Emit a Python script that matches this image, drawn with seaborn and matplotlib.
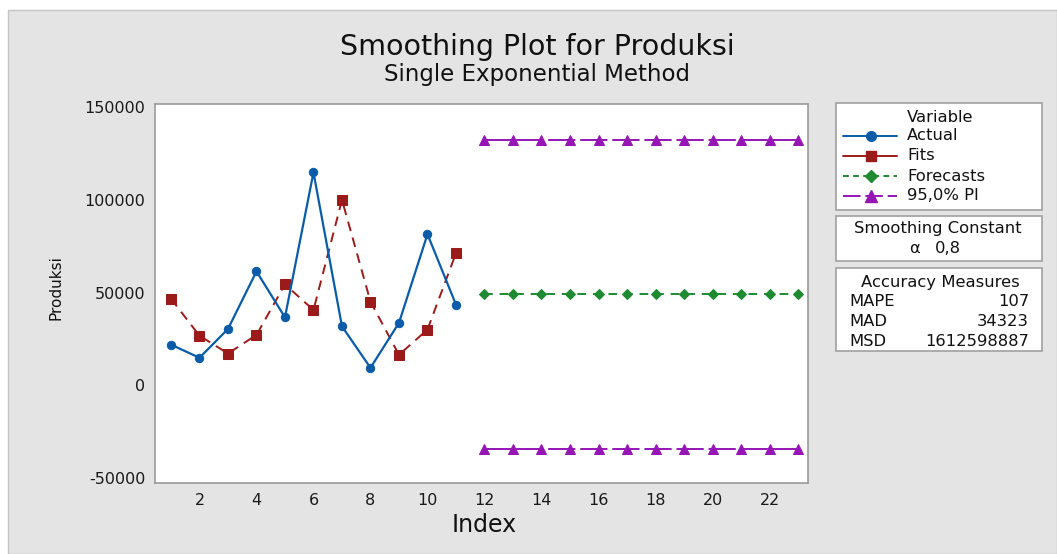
import matplotlib
matplotlib.use("Agg")
import matplotlib.pyplot as plt
from matplotlib.patches import Rectangle
from matplotlib.lines import Line2D
import numpy as np
import pandas as pd
import seaborn as sns

# ---- data ----
index_obs = list(range(1, 12))
actual = [22000, 14900, 30400, 61400, 36700, 114700, 31800, 9500, 33700, 81400, 43500]
fits = [46700, 26800, 17200, 27200, 54400, 40600, 99900, 45100, 16500, 30100, 71200]
index_fc = list(range(12, 24))
forecast_value = 49000
upper_pi = 132300
lower_pi = -34300
forecasts = [forecast_value] * len(index_fc)
upper = [upper_pi] * len(index_fc)
lower = [lower_pi] * len(index_fc)
x_ticks = list(range(2, 23, 2))
y_ticks = [-50000, 0, 50000, 100000, 150000]
alpha_value = "0,8"
acc_labels = ["MAPE", "MAD", "MSD"]
acc_values = ["107", "34323", "1612598887"]

sns.set_style("white")
plt.rcParams['font.family'] = ['DejaVu Sans']

C_ACT = "#0a5ca8"
C_FIT = "#9b1b1b"
C_FC = "#1e8a32"
C_PI = "#9516b5"
GRAY_BG = "#e4e4e4"
SPINE = "#9a9a9a"
TXT = "#111111"

W, H = 1057, 554
fig = plt.figure(figsize=(W / 100, H / 100), dpi=100, facecolor="white")

def fx(px):
    return px / W

def fy(py):
    return 1 - py / H

# outer gray panel
fig.patches.append(Rectangle((fx(8), 0), 1 - fx(8), fy(10), transform=fig.transFigure,
                             facecolor=GRAY_BG, edgecolor="#c4c4c4", linewidth=1.0, zorder=-5))

ax = fig.add_axes([fx(155), fy(483), fx(808) - fx(155), fy(104) - fy(483)])
ax.set_zorder(2)
ax.set_facecolor("white")

df_act = pd.DataFrame({"Index": index_obs, "Produksi": actual})
df_fit = pd.DataFrame({"Index": index_obs, "Produksi": fits})
df_fc = pd.DataFrame({"Index": index_fc, "Produksi": forecasts})
df_up = pd.DataFrame({"Index": index_fc, "Produksi": upper})
df_lo = pd.DataFrame({"Index": index_fc, "Produksi": lower})

sns.lineplot(data=df_act, x="Index", y="Produksi", ax=ax, color=C_ACT, lw=1.6,
             marker="o", markersize=6, markeredgecolor=C_ACT, zorder=3)
sns.lineplot(data=df_fit, x="Index", y="Produksi", ax=ax, color=C_FIT, lw=1.4,
             marker="s", markersize=6.5, markeredgecolor=C_FIT, zorder=2)
ax.lines[-1].set_linestyle((0, (5, 3.5)))
sns.lineplot(data=df_fc, x="Index", y="Produksi", ax=ax, color=C_FC, lw=1.4,
             marker="D", markersize=5.5, markeredgecolor=C_FC, zorder=2)
ax.lines[-1].set_linestyle((0, (4.5, 3.5)))
for d in (df_up, df_lo):
    sns.lineplot(data=d, x="Index", y="Produksi", ax=ax, color=C_PI, lw=1.4,
                 marker="^", markersize=7.5, markeredgecolor=C_PI, zorder=2)
    ax.lines[-1].set_linestyle((0, (14, 2.5)))

ax.set_xlim(0.44, 23.35)
ax.set_ylim(-52500, 151500)
ax.set_xticks(x_ticks)
ax.set_yticks(y_ticks)
ax.set_yticklabels([str(v) for v in y_ticks])
for s in ax.spines.values():
    s.set_color(SPINE)
    s.set_linewidth(1.2)
ax.tick_params(axis="both", direction="out", length=5, width=1.2, color=SPINE,
               labelsize=11.5, labelcolor="#1a1a1a", pad=2)
ax.set_xlabel("")
ax.set_ylabel("")

fig.text(fx(484), fy(525), "Index", ha="center", va="center", fontsize=17, color=TXT)
fig.text(fx(56), fy(288), "Produksi", ha="center", va="center", rotation=90,
         fontsize=11, color=TXT)

fig.text(fx(537), fy(47), "Smoothing Plot for Produksi", ha="center", va="center",
         fontsize=20.5, color=TXT)
fig.text(fx(537), fy(75), "Single Exponential Method", ha="center", va="center",
         fontsize=16.5, color=TXT)

# ---- side boxes ----
def box(x0, y0, x1, y1):
    fig.patches.append(Rectangle((fx(x0), fy(y1)), fx(x1) - fx(x0), fy(y0) - fy(y1),
                                 transform=fig.transFigure, facecolor="white",
                                 edgecolor="#a0a0a0", linewidth=1.2, zorder=1))

box(836, 103, 1042, 210)
box(836, 216, 1042, 261)
box(836, 268, 1042, 351)

TS = 11.8
fig.text(fx(940), fy(118), "Variable", ha="center", va="center", fontsize=TS, color=TXT)
entries = [
    ("Actual", C_ACT, "-", "o", 7),
    ("Fits", C_FIT, "-", "s", 7.5),
    ("Forecasts", C_FC, (0, (3, 2.2)), "D", 6),
    ("95,0% PI", C_PI, (0, (9, 2.5)), "^", 8),
]
ys = [136, 156, 176, 196]
for (lab, c, ls, mk, ms), yy in zip(entries, ys):
    fig.lines.append(Line2D([fx(843), fx(897)], [fy(yy), fy(yy)], transform=fig.transFigure,
                            color=c, lw=1.4, linestyle=ls, zorder=2))
    fig.lines.append(Line2D([fx(871)], [fy(yy)], transform=fig.transFigure, color=c,
                            marker=mk, markersize=ms, markeredgecolor=c, linestyle="none", zorder=3))
    fig.text(fx(907), fy(yy), lab, ha="left", va="center", fontsize=TS, color=TXT)

fig.text(fx(938), fy(229), "Smoothing Constant", ha="center", va="center", fontsize=TS, color=TXT)
fig.text(fx(914), fy(249), "\u03b1", ha="center", va="center", fontsize=TS, color=TXT)
fig.text(fx(948), fy(249), alpha_value, ha="center", va="center", fontsize=TS, color=TXT)

fig.text(fx(940), fy(283), "Accuracy Measures", ha="center", va="center", fontsize=TS, color=TXT)
for i, (l, v) in enumerate(zip(acc_labels, acc_values)):
    yy = 302 + 20 * i
    fig.text(fx(849), fy(yy), l, ha="left", va="center", fontsize=TS, color=TXT)
    fig.text(fx(1029), fy(yy), v, ha="right", va="center", fontsize=TS, color=TXT)

fig.savefig("out.png", dpi=100, facecolor="white")
